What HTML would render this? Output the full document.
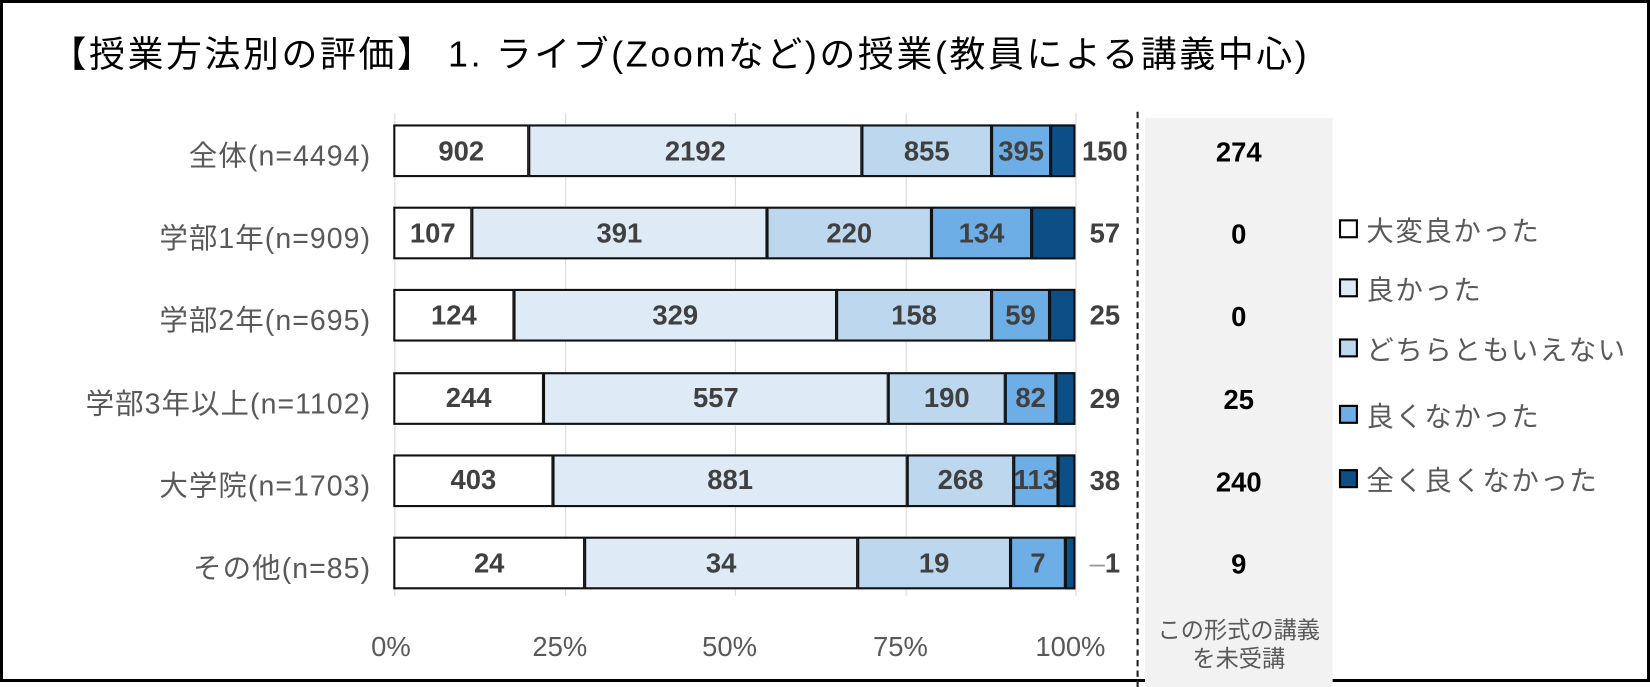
<!DOCTYPE html>
<html><head><meta charset="utf-8"><style>
body{margin:0;width:1650px;height:682px;overflow:hidden;background:#fff;font-family:"Liberation Sans","Noto Sans CJK JP",sans-serif;}
#f{position:absolute;left:0;top:0;width:1644px;height:676px;border:3px solid #000;}
#w{position:absolute;left:0;top:0;width:1565px;height:647px;transform:scale(1.0543);transform-origin:0 0;}
.a{position:absolute;}
.t{font-size:34px;letter-spacing:2.5px;color:#000;left:48px;top:24px;white-space:nowrap;}
.g{width:1px;background:#d9d9d9;top:107px;height:458px;}
.seg{position:absolute;height:50px;border:2px solid #111;box-sizing:border-box;margin-left:-1px;display:flex;align-items:center;justify-content:center;font-weight:bold;font-size:26px;color:#404040;overflow:visible;white-space:nowrap;}
.cat{right:1213px;font-size:27px;letter-spacing:1px;color:#595959;text-align:right;white-space:nowrap;}
.ax{font-size:26px;color:#595959;top:598px;}
.rn{font-size:26px;font-weight:bold;color:#404040;left:1026px;width:44px;text-align:center;}
.un{font-size:26px;font-weight:bold;color:#000;left:1086px;width:178px;text-align:center;}
.lg{left:1270px;width:14px;height:14px;border:2px solid #000;}
.lt{left:1296px;font-size:26px;letter-spacing:1.5px;color:#595959;white-space:nowrap;}
</style></head><body>
<div id="f"></div>
<div id="w">
<div class="a t">【授業方法別の評価】 1. ライブ(Zoomなど)の授業(教員による講義中心)</div>
<div class="a" style="left:1086px;top:112px;width:178px;height:540px;background:#f2f2f2"></div>
<div class="a" style="left:1078px;top:106px;height:546px;border-left:2px dashed #222"></div>
<div class="a g" style="left:374px"></div><div class="a g" style="left:536px"></div><div class="a g" style="left:697px"></div><div class="a g" style="left:859px"></div><div class="a g" style="left:1020px"></div>
<div id="bars"></div>
<div class="a ax" style="left:352px">0%</div>
<div class="a ax" style="left:505px">25%</div>
<div class="a ax" style="left:666px">50%</div>
<div class="a ax" style="left:828px">75%</div>
<div class="a ax" style="left:982px">100%</div>
<div class="a" style="left:1086px;top:584px;width:178px;text-align:center;font-size:22px;line-height:27px;color:#595959">この形式の講義<br>を未受講</div>
<div class="a lg" style="top:208px;background:#fff"></div><div class="a lt" style="top:199px">大変良かった</div>
<div class="a lg" style="top:264px;background:#deebf7"></div><div class="a lt" style="top:255px">良かった</div>
<div class="a lg" style="top:321px;background:#bdd7ee"></div><div class="a lt" style="top:312px">どちらともいえない</div>
<div class="a lg" style="top:384px;background:#6eaee6"></div><div class="a lt" style="top:375px">良くなかった</div>
<div class="a lg" style="top:445px;background:#0b4f86"></div><div class="a lt" style="top:436px">全く良くなかった</div>
</div>
<script>
var rows=[
["全体(n=4494)",[374,502,818,941,997,1020],["902","2192","855","395",""],"150","274"],
["学部1年(n=909)",[374,448,728,884,979,1020],["107","391","220","134",""],"57","0"],
["学部2年(n=695)",[374,488,794,941,996,1020],["124","329","158","59",""],"25","0"],
["学部3年以上(n=1102)",[374,516,843,954,1002,1020],["244","557","190","82",""],"29","25"],
["大学院(n=1703)",[374,525,861,962,1004,1020],["403","881","268","113",""],"38","240"],
["その他(n=85)",[374,555,814,959,1011,1020],["24","34","19","7",""],"1","9"]];
var cols=["#fff","#deebf7","#bdd7ee","#6eaee6","#0b4f86"];
var h="";
rows.forEach(function(r,i){var top=118+i*78.2;
for(var k=0;k<5;k++){h+='<div class="seg" style="left:'+r[1][k]+'px;top:'+top+'px;width:'+(r[1][k+1]-r[1][k]+1)+'px;background:'+cols[k]+'">'+r[2][k]+'</div>';}
h+='<div class="a cat" style="top:'+(top+8)+'px">'+r[0]+'</div>';
h+='<div class="a rn" style="top:'+(top+10)+'px">'+(i==5?'<span style="font-weight:normal;color:#999">–</span>':'')+r[3]+'</div>';
h+='<div class="a un" style="top:'+(top+11)+'px">'+r[4]+'</div>';});
document.getElementById("bars").innerHTML=h;
</script>
</body></html>
